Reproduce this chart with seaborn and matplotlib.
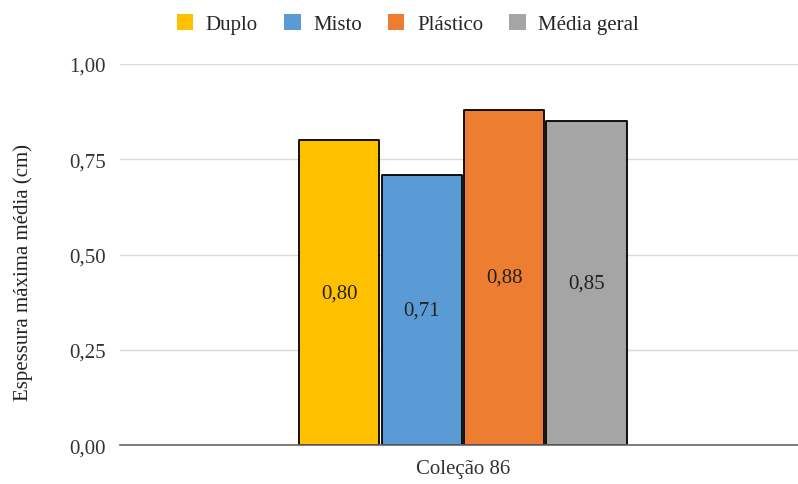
import matplotlib
matplotlib.use("Agg")
import matplotlib.pyplot as plt
import seaborn as sns
import pandas as pd
from matplotlib.patches import Patch

categories = ["Coleção 86"]
series = ["Duplo", "Misto", "Plástico", "Média geral"]
values = [0.80, 0.71, 0.88, 0.85]
colors = ["#FFC000", "#5B9BD5", "#ED7D31", "#A5A5A5"]
yticks = [0.0, 0.25, 0.50, 0.75, 1.00]

df = pd.DataFrame({"colecao": categories * len(series),
                   "serie": series,
                   "espessura": values})

sns.set_theme(style="white")
plt.rcParams["font.family"] = ["Liberation Serif", "DejaVu Serif"]
FS = 15

fig, ax = plt.subplots(figsize=(7.98, 4.85), dpi=100)
fig.subplots_adjust(left=0.150, right=1.0, top=0.866, bottom=0.08)

sns.barplot(data=df, x="colecao", y="espessura", hue="serie",
            hue_order=series, palette=colors, saturation=1,
            width=0.486, gap=0.025,
            edgecolor="black", linewidth=1.3, legend=False, ax=ax)

for bar in ax.patches:
    bar.set_joinstyle("round")

ax.set_xlim(-0.506, 0.494)
ax.set_ylim(0, 1.0)
ax.set_yticks(yticks)
ax.set_yticklabels([f"{t:.2f}".replace(".", ",") for t in yticks],
                   fontsize=FS, color="#333333")
ax.tick_params(axis="y", length=6, color="#d9d9d9", width=1, pad=4)
ax.tick_params(axis="x", length=0, labelsize=FS, labelcolor="#333333", pad=10)
ax.yaxis.grid(True, color="#d9d9d9", linewidth=1)
ax.set_axisbelow(True)
for side in ["top", "right", "left"]:
    ax.spines[side].set_visible(False)
ax.spines["bottom"].set_color("#666666")
ax.spines["bottom"].set_linewidth(1.2)

ax.set_xlabel("")
ax.set_ylabel("")
fig.text(0.029, 0.439, "Espessura máxima média (cm)", rotation=90,
         ha="center", va="center", fontsize=FS, color="#222222")

# value labels centred inside each bar
for bar, v in zip(ax.patches, values):
    ax.text(bar.get_x() + bar.get_width() / 2, v / 2,
            f"{v:.2f}".replace(".", ","), ha="center", va="center",
            fontsize=FS, color="#222222")

handles = [Patch(facecolor=c, edgecolor="none") for c in colors]
fig.legend(handles, series, loc="upper center", ncol=4, frameon=False,
           bbox_to_anchor=(0.511, 1.008), fontsize=FS, handlelength=0.8,
           handleheight=0.8, handletextpad=0.6, columnspacing=1.25)

fig.savefig("out.png", dpi=100)
